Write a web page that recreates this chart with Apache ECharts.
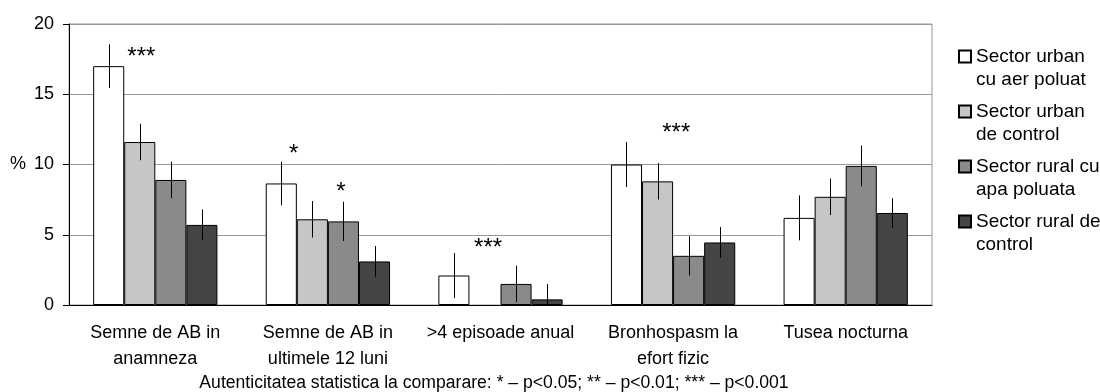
<!DOCTYPE html>
<html>
<head>
<meta charset="utf-8">
<script src="https://cdn.jsdelivr.net/npm/echarts@6/dist/echarts.min.js"></script>
<style>html,body{margin:0;padding:0;background:#fff}#c{width:1100px;height:392px}</style>
</head>
<body>
<div id="c"></div>
<script>
const categories = ['Semne de AB in\nanamneza', 'Semne de AB in\nultimele 12 luni', '>4 episoade anual', 'Bronhospasm la\nefort fizic', 'Tusea nocturna'];
const seriesNames = ['Sector urban\ncu aer poluat', 'Sector urban\nde control', 'Sector rural cu\napa poluata', 'Sector rural de\ncontrol'];
const urbanPolluted = [17.0, 8.65, 2.1, 10.0, 6.2];
const urbanControl = [11.6, 6.1, null, 8.8, 7.7];
const ruralPolluted = [8.9, 5.95, 1.5, 3.5, 9.9];
const ruralControl = [5.7, 3.1, 0.4, 4.45, 6.55];
const errUrbanPolluted = [1.55, 1.55, 1.6, 1.6, 1.6];
const errUrbanControl = [1.3, 1.3, null, 1.3, 1.3];
const errRuralPolluted = [1.3, 1.4, 1.3, 1.4, 1.45];
const errRuralControl = [1.1, 1.1, 1.1, 1.1, 1.05];
// significance marks: [category index, bar position within group, value level, text]
const stars = [[0, 1.05, 17.65, '***'], [1, 0.4, 10.7, '*'], [1, 1.92, 8.05, '*'], [2, 1.1, 4.0, '***'], [3, 1.6, 12.2, '***']];
const yTicks = [0, 5, 10, 15, 20];
const footnote = 'Autenticitatea statistica la comparare: * – p<0.05; ** – p<0.01; *** – p<0.001';

const values = [urbanPolluted, urbanControl, ruralPolluted, ruralControl];
const errors = [errUrbanPolluted, errUrbanControl, errRuralPolluted, errRuralControl];
const colors = ['#ffffff', '#c6c6c6', '#8a8a8a', '#454545'];
const GAP = 0.28;
const FONT = 'Liberation Sans';

const errData = [];
values.forEach((arr, s) => arr.forEach((v, i) => {
  if (v != null && errors[s][i] != null) errData.push([i, s, v, errors[s][i]]);
}));

const chart = echarts.init(document.getElementById('c'), null, {renderer: 'canvas'});
const barSeries = seriesNames.map((n, s) => ({
  name: n, type: 'bar', data: values[s], barGap: 0, barCategoryGap: (GAP * 100) + '%',
  itemStyle: {color: colors[s], borderColor: '#000', borderWidth: 1},
  emphasis: {disabled: true}, animation: false
}));

chart.setOption({
  animation: false,
  textStyle: {fontFamily: FONT},
  grid: {left: 69, right: 168, top: 24, bottom: 87, show: true, borderColor: '#999', borderWidth: 1},
  legend: {
    orient: 'vertical', left: 958, top: 22, padding: 0, itemWidth: 12, itemHeight: 12, itemGap: -14,
    icon: 'rect',
    formatter: name => '\n' + name,
    textStyle: {fontFamily: FONT, fontSize: 19, color: '#000', lineHeight: 23},
    data: seriesNames
  },
  xAxis: {
    type: 'category', data: categories,
    axisLine: {lineStyle: {color: '#000', width: 1}},
    axisTick: {length: 5, lineStyle: {color: '#000'}},
    axisLabel: {fontFamily: FONT, fontSize: 18, color: '#000', lineHeight: 26, margin: 15, interval: 0}
  },
  yAxis: {
    type: 'value', min: 0, max: 20, interval: 5,
    name: '%', nameLocation: 'middle', nameRotate: 0, nameGap: 43,
    nameTextStyle: {fontFamily: FONT, fontSize: 18, color: '#000'},
    axisLine: {show: true, lineStyle: {color: '#000', width: 1}},
    axisTick: {show: true, length: 6, lineStyle: {color: '#000'}},
    axisLabel: {fontFamily: FONT, fontSize: 18, color: '#000', margin: 15,
      formatter: v => yTicks.includes(v) ? String(v) : ''},
    splitLine: {lineStyle: {color: '#999', width: 1}}
  },
  graphic: [{type: 'text', x: 494, y: 383, style: {text: footnote, font: '17.6px "' + FONT + '"', fill: '#000', align: 'center', verticalAlign: 'middle'}}],
  series: barSeries.concat([
    {
      type: 'custom', name: 'err', data: errData, encode: {x: 0, y: 2}, z: 10, silent: true,
      renderItem: (params, api) => {
        const cat = api.value(0), s = api.value(1), v = api.value(2), e = api.value(3);
        const bandW = api.size([1, 0])[0];
        const barW = bandW * (1 - GAP) / 4;
        const top = api.coord([cat, v + e]);
        const bot = api.coord([cat, Math.max(0, v - e)]);
        const x = Math.round(top[0] + (s - 1.5) * barW) + 0.5;
        return {type: 'line', shape: {x1: x, y1: top[1], x2: x, y2: bot[1]}, style: {stroke: '#000', lineWidth: 1}};
      }
    },
    {
      type: 'custom', name: 'stars', data: stars, encode: {x: 0, y: 2}, z: 11, silent: true,
      renderItem: (params, api) => {
        const cat = api.value(0), pos = api.value(1), v = api.value(2);
        const txt = stars[params.dataIndex][3];
        const bandW = api.size([1, 0])[0];
        const barW = bandW * (1 - GAP) / 4;
        const p = api.coord([cat, v]);
        return {type: 'text', x: p[0] + (pos - 1.5) * barW, y: p[1],
          style: {text: txt, font: '24px "' + FONT + '"', fill: '#000', align: 'center', verticalAlign: 'middle'}};
      }
    }
  ])
});
</script>
</body>
</html>
